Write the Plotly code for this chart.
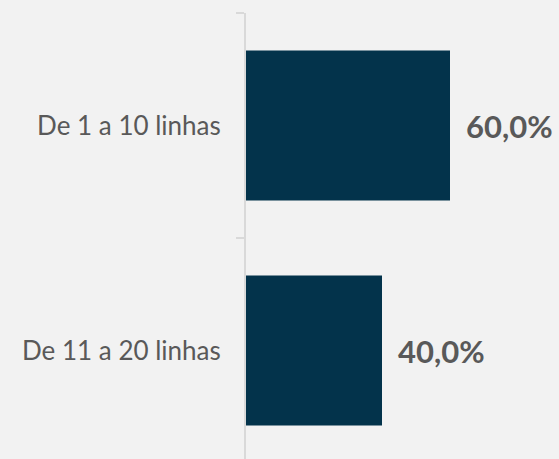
import plotly.graph_objects as go

# dados
categorias = ["De 1 a 10 linhas", "De 11 a 20 linhas"]
percentuais = [60.0, 40.0]

cor_barra = "#03334b"
cor_texto = "#595959"
fundo = "#f2f2f2"

fig = go.Figure()

fig.add_trace(go.Bar(
    x=percentuais, y=categorias,
    orientation="h",
    marker=dict(color=cor_barra, line=dict(width=0)),
    width=0.667,
    hoverinfo="skip",
))

# rótulos de valor à direita das barras
for cat, val in zip(categorias, percentuais):
    fig.add_annotation(
        x=val, y=cat, xref="x", yref="y",
        text=f"{val:.1f}%".replace(".", ","),
        showarrow=False, xanchor="left", yanchor="middle", xshift=14,
        font=dict(family="Lato", size=31, color=cor_texto, weight="bold"),
    )

fig.update_layout(
    width=559, height=459,
    margin=dict(l=246, r=0, t=13, b=0),
    paper_bgcolor=fundo, plot_bgcolor=fundo,
    showlegend=False,
    font=dict(family="Lato", color=cor_texto),
    xaxis=dict(range=[0, 92.06], visible=False, fixedrange=True),
    yaxis=dict(
        categoryorder="array", categoryarray=categorias,
        range=[1.482, -0.5],
        showline=True, linecolor="#d9d9d9", linewidth=2,
        ticks="outside", ticklen=8, tickcolor="#d9d9d9", tickwidth=2,
        tickson="boundaries",
        tickfont=dict(family="Lato", size=26, color=cor_texto),
        ticklabelstandoff=18,
        showgrid=False, zeroline=False,
    ),
)

# sem margem na página, sem barra de ferramentas
fig.write_html("out.html", config={"displayModeBar": False},
               post_script="document.body.style.margin='0px';")
